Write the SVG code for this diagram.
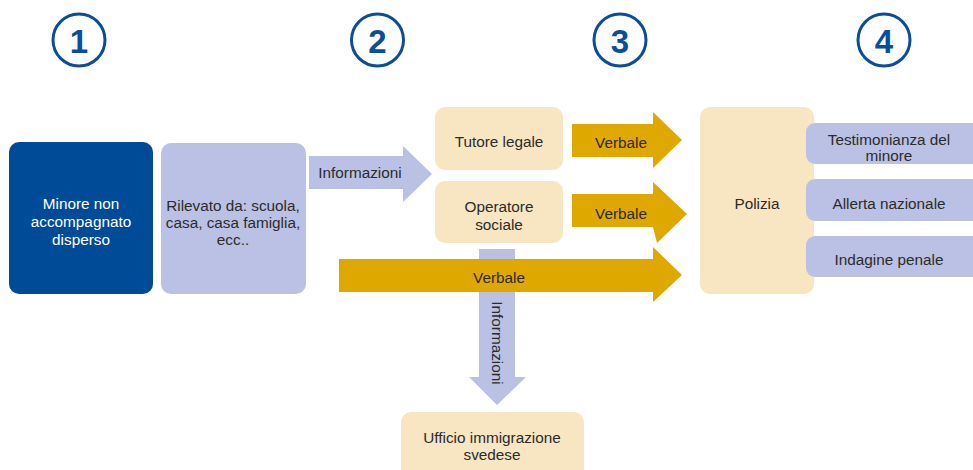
<svg xmlns="http://www.w3.org/2000/svg" width="973" height="470" viewBox="0 0 973 470">
<style>
.t{font-family:"Liberation Sans",Arial,sans-serif;font-size:15.3px;fill:#2b2b2b;text-anchor:middle;dominant-baseline:central}
.w{fill:#ffffff}
.num{font-family:"Liberation Sans",Arial,sans-serif;font-size:33px;font-weight:bold;fill:#0A4D9C;text-anchor:middle;dominant-baseline:central}
.ring{fill:#ffffff;stroke:#0A4D9C;stroke-width:3}
.dark{fill:#004B98}
.lav{fill:#BBC1E4}
.cream{fill:#F8E5C2}
.gold{fill:#DFA800}
</style>
<rect width="973" height="470" fill="#ffffff"/>
<g id="steps">
<g id="step1"><circle class="ring" cx="79" cy="40" r="26"/><text class="num" x="79" y="41">1</text></g>
<g id="step2"><circle class="ring" cx="377.5" cy="40" r="26"/><text class="num" x="377.5" y="41">2</text></g>
<g id="step3"><circle class="ring" cx="620" cy="40" r="26"/><text class="num" x="620" y="41">3</text></g>
<g id="step4"><circle class="ring" cx="884" cy="40" r="26"/><text class="num" x="884" y="41">4</text></g>
</g>
<g id="connectors">
<g id="arrow-info-down">
<polygon class="lav" points="479,249 515,249 515,377 526,377 497,405 469,377 479,377"/>
<text class="t" transform="translate(497,343) rotate(90)" x="0" y="0">Informazioni</text>
</g>
<g id="arrow-info-right">
<polygon class="lav" points="309,156 403,156 403,146 432,174 403,202 403,189 309,189"/>
<text class="t" x="360" y="172">Informazioni</text>
</g>
<g id="arrow-verbale-1">
<polygon class="gold" points="572,124 653,124 653,112 682,140 653,168 653,157 572,157"/>
<text class="t" x="621" y="142">Verbale</text>
</g>
<g id="arrow-verbale-2">
<polygon class="gold" points="572,194 653,194 653,182 687,214 657,243 653,227 572,227"/>
<text class="t" x="621" y="213">Verbale</text>
</g>
<g id="arrow-verbale-3">
<polygon class="gold" points="339,259 653,259 653,247 682,275 653,302 653,292 339,292"/>
<text class="t" x="499" y="277">Verbale</text>
</g>
</g>
<g id="minore">
<rect class="dark" x="9" y="142" width="144" height="152" rx="10"/>
<text class="t w" x="81" y="203">Minore non</text>
<text class="t w" x="81" y="221">accompagnato</text>
<text class="t w" x="81" y="239">disperso</text>
</g>
<g id="rilevato">
<rect class="lav" x="161" y="143" width="145" height="151" rx="10"/>
<text class="t" x="233" y="205">Rilevato da: scuola,</text>
<text class="t" x="233" y="222">casa, casa famiglia,</text>
<text class="t" x="233" y="239">ecc..</text>
</g>
<g id="tutore">
<rect class="cream" x="435" y="107" width="128" height="63" rx="10"/>
<text class="t" x="499" y="141">Tutore legale</text>
</g>
<g id="operatore">
<rect class="cream" x="435" y="181" width="128" height="62" rx="10"/>
<text class="t" x="499" y="206">Operatore</text>
<text class="t" x="499" y="224">sociale</text>
</g>
<g id="polizia">
<rect class="cream" x="700" y="107" width="114" height="187" rx="10"/>
<text class="t" x="757" y="203">Polizia</text>
</g>
<g id="testimonianza">
<rect class="lav" x="806" y="123" width="175" height="41" rx="9"/>
<text class="t" x="889" y="139">Testimonianza del</text>
<text class="t" x="889" y="155">minore</text>
</g>
<g id="allerta">
<rect class="lav" x="806" y="179" width="175" height="42" rx="9"/>
<text class="t" x="889" y="203">Allerta nazionale</text>
</g>
<g id="indagine">
<rect class="lav" x="806" y="236" width="175" height="41" rx="9"/>
<text class="t" x="889" y="259">Indagine penale</text>
</g>
<g id="ufficio">
<rect class="cream" x="401" y="412" width="183" height="70" rx="10"/>
<text class="t" x="492" y="437">Ufficio immigrazione</text>
<text class="t" x="492" y="454">svedese</text>
</g>
</svg>
